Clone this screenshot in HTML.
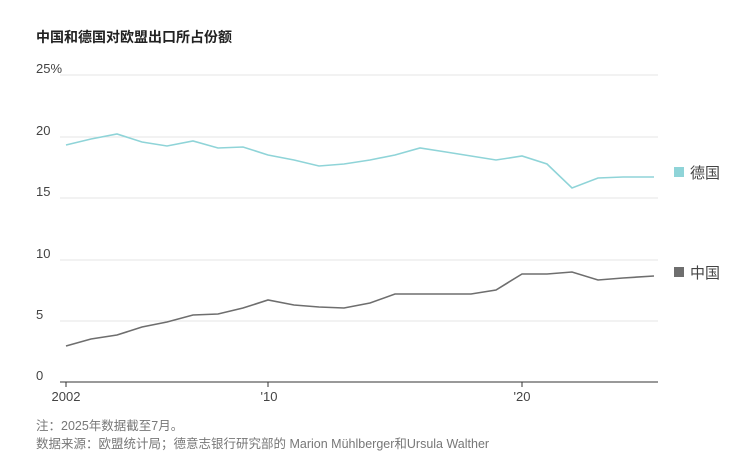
<!DOCTYPE html>
<html><head><meta charset="utf-8"><style>
body{margin:0;background:#fff;width:752px;height:461px;overflow:hidden;font-family:"Liberation Sans","Noto Sans CJK SC",sans-serif;}
</style></head><body>
<svg width="752" height="461" xmlns="http://www.w3.org/2000/svg" font-family="Liberation Sans, Noto Sans CJK SC, sans-serif">
<text x="36" y="42" font-size="14" font-weight="bold" fill="#222">中国和德国对欧盟出口所占份额</text>
<g stroke="#e6e6e6" stroke-width="1">
<line x1="60" y1="75" x2="658" y2="75"/>
<line x1="60" y1="137" x2="658" y2="137"/>
<line x1="60" y1="198" x2="658" y2="198"/>
<line x1="60" y1="260" x2="658" y2="260"/>
<line x1="60" y1="321" x2="658" y2="321"/>
</g>
<line x1="60" y1="382" x2="658" y2="382" stroke="#333" stroke-width="1"/>
<g font-size="13" fill="#444">
<text x="36" y="73">25%</text>
<text x="36" y="135">20</text>
<text x="36" y="196">15</text>
<text x="36" y="258">10</text>
<text x="36" y="319">5</text>
<text x="36" y="380">0</text>
<text x="66" y="401" text-anchor="middle">2002</text>
<text x="269" y="401" text-anchor="middle">'10</text>
<text x="522" y="401" text-anchor="middle">'20</text>
</g>
<g stroke="#333"><line x1="66" y1="382" x2="66" y2="387"/><line x1="268" y1="382" x2="268" y2="387"/><line x1="522" y1="382" x2="522" y2="387"/></g>
<polyline fill="none" stroke="#8fd4d8" stroke-width="1.6" points="66,145 91,139 117,134 142,142 167,146 193,141 218,148 243,147 268,155 294,160 319,166 344,164 370,160 395,155 420,148 446,152 471,156 496,160 522,156 547,164 572,188 598,178 623,177 654,177"/>
<polyline fill="none" stroke="#6e6e6e" stroke-width="1.6" points="66,346 91,339 117,335 142,327 167,322 193,315 218,314 243,308 268,300 294,305 319,307 344,308 370,303 395,294 420,294 446,294 471,294 496,290 522,274 547,274 572,272 598,280 623,278 654,276"/>
<rect x="674" y="167" width="10" height="10" fill="#8fd4d8"/>
<text x="690" y="178" font-size="15" fill="#444">德国</text>
<rect x="674" y="267" width="10" height="10" fill="#6e6e6e"/>
<text x="690" y="278" font-size="15" fill="#444">中国</text>
<text x="36" y="430" font-size="12.5" fill="#777">注：2025年数据截至7月。</text>
<text x="36" y="448" font-size="12.5" fill="#777">数据来源：欧盟统计局；德意志银行研究部的 Marion Mühlberger和Ursula Walther</text>
</svg>
</body></html>
